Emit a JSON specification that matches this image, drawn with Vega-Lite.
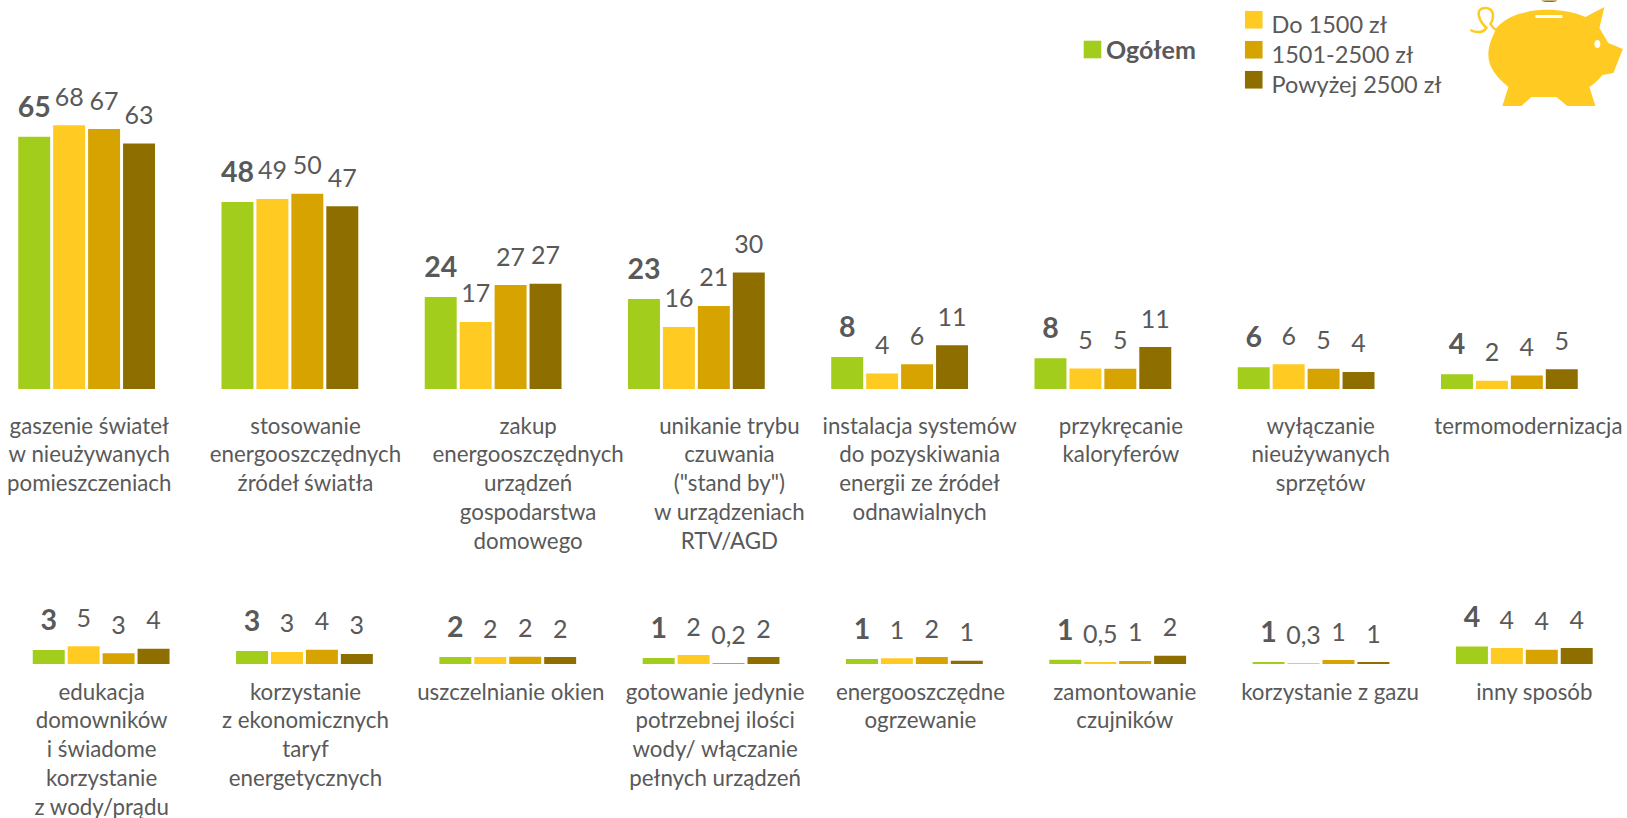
{
"$schema":"https://vega.github.io/schema/vega-lite/v6.json",
"padding":0,
"background":"white",
"spacing":0,
"config":{"view":{"stroke":null},"text":{"font":"Lato","color":"#595959"},"axis":{"labelFont":"Lato","labelColor":"#595959"},"legend":{"labelFont":"Lato","labelColor":"#595959"}},
"datasets":{
"top":[
{"cat":"gaszenie świateł|w nieużywanych|pomieszczeniach","series":"Ogółem","value":65,"label":"65"},
{"cat":"gaszenie świateł|w nieużywanych|pomieszczeniach","series":"Do 1500 zł","value":68,"label":"68"},
{"cat":"gaszenie świateł|w nieużywanych|pomieszczeniach","series":"1501-2500 zł","value":67,"label":"67"},
{"cat":"gaszenie świateł|w nieużywanych|pomieszczeniach","series":"Powyżej 2500 zł","value":63.3,"label":"63"},
{"cat":"stosowanie|energooszczędnych|źródeł światła","series":"Ogółem","value":48.2,"label":"48"},
{"cat":"stosowanie|energooszczędnych|źródeł światła","series":"Do 1500 zł","value":49,"label":"49"},
{"cat":"stosowanie|energooszczędnych|źródeł światła","series":"1501-2500 zł","value":50.3,"label":"50"},
{"cat":"stosowanie|energooszczędnych|źródeł światła","series":"Powyżej 2500 zł","value":47.1,"label":"47"},
{"cat":"zakup|energooszczędnych|urządzeń|gospodarstwa|domowego","series":"Ogółem","value":23.7,"label":"24"},
{"cat":"zakup|energooszczędnych|urządzeń|gospodarstwa|domowego","series":"Do 1500 zł","value":17.3,"label":"17"},
{"cat":"zakup|energooszczędnych|urządzeń|gospodarstwa|domowego","series":"1501-2500 zł","value":26.8,"label":"27"},
{"cat":"zakup|energooszczędnych|urządzeń|gospodarstwa|domowego","series":"Powyżej 2500 zł","value":27.1,"label":"27"},
{"cat":"unikanie trybu|czuwania|(\"stand by\")|w urządzeniach|RTV/AGD","series":"Ogółem","value":23.2,"label":"23"},
{"cat":"unikanie trybu|czuwania|(\"stand by\")|w urządzeniach|RTV/AGD","series":"Do 1500 zł","value":16,"label":"16"},
{"cat":"unikanie trybu|czuwania|(\"stand by\")|w urządzeniach|RTV/AGD","series":"1501-2500 zł","value":21.4,"label":"21"},
{"cat":"unikanie trybu|czuwania|(\"stand by\")|w urządzeniach|RTV/AGD","series":"Powyżej 2500 zł","value":30,"label":"30"},
{"cat":"instalacja systemów|do pozyskiwania|energii ze źródeł|odnawialnych","series":"Ogółem","value":8.25,"label":"8"},
{"cat":"instalacja systemów|do pozyskiwania|energii ze źródeł|odnawialnych","series":"Do 1500 zł","value":4,"label":"4"},
{"cat":"instalacja systemów|do pozyskiwania|energii ze źródeł|odnawialnych","series":"1501-2500 zł","value":6.4,"label":"6"},
{"cat":"instalacja systemów|do pozyskiwania|energii ze źródeł|odnawialnych","series":"Powyżej 2500 zł","value":11.3,"label":"11"},
{"cat":"przykręcanie|kaloryferów","series":"Ogółem","value":7.9,"label":"8"},
{"cat":"przykręcanie|kaloryferów","series":"Do 1500 zł","value":5.3,"label":"5"},
{"cat":"przykręcanie|kaloryferów","series":"1501-2500 zł","value":5.2,"label":"5"},
{"cat":"przykręcanie|kaloryferów","series":"Powyżej 2500 zł","value":10.8,"label":"11"},
{"cat":"wyłączanie|nieużywanych|sprzętów","series":"Ogółem","value":5.6,"label":"6"},
{"cat":"wyłączanie|nieużywanych|sprzętów","series":"Do 1500 zł","value":6.4,"label":"6"},
{"cat":"wyłączanie|nieużywanych|sprzętów","series":"1501-2500 zł","value":5.2,"label":"5"},
{"cat":"wyłączanie|nieużywanych|sprzętów","series":"Powyżej 2500 zł","value":4.4,"label":"4"},
{"cat":"termomodernizacja","series":"Ogółem","value":3.8,"label":"4"},
{"cat":"termomodernizacja","series":"Do 1500 zł","value":2.1,"label":"2"},
{"cat":"termomodernizacja","series":"1501-2500 zł","value":3.5,"label":"4"},
{"cat":"termomodernizacja","series":"Powyżej 2500 zł","value":5.1,"label":"5"}
],
"bottom":[
{"cat":"edukacja|domowników|i świadome|korzystanie|z wody/prądu","series":"Ogółem","value":3.6,"label":"3"},
{"cat":"edukacja|domowników|i świadome|korzystanie|z wody/prądu","series":"Do 1500 zł","value":4.6,"label":"5"},
{"cat":"edukacja|domowników|i świadome|korzystanie|z wody/prądu","series":"1501-2500 zł","value":2.8,"label":"3"},
{"cat":"edukacja|domowników|i świadome|korzystanie|z wody/prądu","series":"Powyżej 2500 zł","value":3.9,"label":"4"},
{"cat":"korzystanie|z ekonomicznych|taryf|energetycznych","series":"Ogółem","value":3.35,"label":"3"},
{"cat":"korzystanie|z ekonomicznych|taryf|energetycznych","series":"Do 1500 zł","value":3.1,"label":"3"},
{"cat":"korzystanie|z ekonomicznych|taryf|energetycznych","series":"1501-2500 zł","value":3.7,"label":"4"},
{"cat":"korzystanie|z ekonomicznych|taryf|energetycznych","series":"Powyżej 2500 zł","value":2.6,"label":"3"},
{"cat":"uszczelnianie okien","series":"Ogółem","value":1.8,"label":"2"},
{"cat":"uszczelnianie okien","series":"Do 1500 zł","value":1.8,"label":"2"},
{"cat":"uszczelnianie okien","series":"1501-2500 zł","value":1.9,"label":"2"},
{"cat":"uszczelnianie okien","series":"Powyżej 2500 zł","value":1.8,"label":"2"},
{"cat":"gotowanie jedynie|potrzebnej ilości|wody/ włączanie|pełnych urządzeń","series":"Ogółem","value":1.55,"label":"1"},
{"cat":"gotowanie jedynie|potrzebnej ilości|wody/ włączanie|pełnych urządzeń","series":"Do 1500 zł","value":2.3,"label":"2"},
{"cat":"gotowanie jedynie|potrzebnej ilości|wody/ włączanie|pełnych urządzeń","series":"1501-2500 zł","value":0.25,"label":"0,2"},
{"cat":"gotowanie jedynie|potrzebnej ilości|wody/ włączanie|pełnych urządzeń","series":"Powyżej 2500 zł","value":1.8,"label":"2"},
{"cat":"energooszczędne|ogrzewanie","series":"Ogółem","value":1.3,"label":"1"},
{"cat":"energooszczędne|ogrzewanie","series":"Do 1500 zł","value":1.45,"label":"1"},
{"cat":"energooszczędne|ogrzewanie","series":"1501-2500 zł","value":1.8,"label":"2"},
{"cat":"energooszczędne|ogrzewanie","series":"Powyżej 2500 zł","value":0.85,"label":"1"},
{"cat":"zamontowanie|czujników","series":"Ogółem","value":1.1,"label":"1"},
{"cat":"zamontowanie|czujników","series":"Do 1500 zł","value":0.5,"label":"0,5"},
{"cat":"zamontowanie|czujników","series":"1501-2500 zł","value":0.8,"label":"1"},
{"cat":"zamontowanie|czujników","series":"Powyżej 2500 zł","value":2.15,"label":"2"},
{"cat":"korzystanie z gazu","series":"Ogółem","value":0.5,"label":"1"},
{"cat":"korzystanie z gazu","series":"Do 1500 zł","value":0.25,"label":"0,3"},
{"cat":"korzystanie z gazu","series":"1501-2500 zł","value":1,"label":"1"},
{"cat":"korzystanie z gazu","series":"Powyżej 2500 zł","value":0.5,"label":"1"},
{"cat":"inny sposób","series":"Ogółem","value":4.5,"label":"4"},
{"cat":"inny sposób","series":"Do 1500 zł","value":4.1,"label":"4"},
{"cat":"inny sposób","series":"1501-2500 zł","value":3.7,"label":"4"},
{"cat":"inny sposób","series":"Powyżej 2500 zł","value":4.1,"label":"4"}
]
},
"vconcat":[
{
"width":1627,"height":389,
"layer":[
{
"data":{"name":"top"},
"encoding":{
"x":{"field":"cat","type":"nominal","sort":null,"title":null,
"scale":{"domain":["gaszenie świateł|w nieużywanych|pomieszczeniach","stosowanie|energooszczędnych|źródeł światła","zakup|energooszczędnych|urządzeń|gospodarstwa|domowego","unikanie trybu|czuwania|(\"stand by\")|w urządzeniach|RTV/AGD","instalacja systemów|do pozyskiwania|energii ze źródeł|odnawialnych","przykręcanie|kaloryferów","wyłączanie|nieużywanych|sprzętów","termomodernizacja"],"range":[-15,1611],"paddingInner":0.327,"paddingOuter":0.1635},
"axis":{"domain":false,"ticks":false,"labelAngle":0,"labelFontSize":22.3,"labelPadding":26,"labelLineHeight":28.9,"labelBaseline":"top","labelLimit":400,"labelOverlap":false,"labelFlush":false,"labelExpr":"split(datum.label,'|')",
"encoding":{"labels":{"dx":{"value":{"signal":"{'gaszenie':2.6,'stosowanie|energooszczędnych|źródeł':15.6,'zakup|energooszczędnych|urządzeń|gospodarstwa|domowego':35,'unikanie':33,'instalacja':20,'przykręcanie|kaloryferów':18,'wyłączanie|nieużywanych|sprzętów':14.5,'termomodernizacja':19}[split(datum.value,' ')[0]]"}}}}}},
"xOffset":{"field":"series","type":"nominal","sort":null,"scale":{"domain":["Ogółem","Do 1500 zł","1501-2500 zł","Powyżej 2500 zł"],"paddingInner":0.085,"paddingOuter":0}},
"y":{"field":"value","type":"quantitative","axis":null,"scale":{"domain":[0,100.26],"nice":false}}
},
"layer":[
{"transform":[{"filter":"datum.series==='Ogółem'"}],"mark":{"type":"bar"},
"encoding":{"color":{"field":"series","type":"nominal","scale":{"domain":["Ogółem"],"range":["#A2CD1C"]},
"legend":{"orient":"none","legendX":1080,"legendY":37,"title":null,"symbolType":"square","symbolSize":310,"symbolStrokeWidth":0,"labelFontSize":25,"labelFontWeight":"bold","labelOffset":1,"padding":0,"symbolOpacity":1,"encoding":{"labels":{"dy":{"value":1}}}}}}},
{"transform":[{"filter":"datum.series!=='Ogółem'"}],"mark":{"type":"bar"},
"encoding":{"color":{"field":"series","type":"nominal","sort":null,"scale":{"domain":["Do 1500 zł","1501-2500 zł","Powyżej 2500 zł"],"range":["#FFCA22","#D6A300","#8F6E00"]},
"legend":{"orient":"none","legendX":1242,"legendY":8,"title":null,"symbolType":"square","symbolSize":310,"symbolStrokeWidth":0,"labelFontSize":23.5,"labelOffset":6,"labelLimit":300,"rowPadding":0,"padding":0,"symbolOpacity":1,"encoding":{"labels":{"dy":{"value":6}}}}}}},
{"transform":[{"filter":"datum.series==='Ogółem'"}],"mark":{"type":"text","fontSize":28.5,"fontWeight":"bold","dy":-29,"baseline":"middle"},"encoding":{"text":{"field":"label","type":"nominal"}}},
{"transform":[{"filter":"datum.series!=='Ogółem'"}],"mark":{"type":"text","fontSize":25,"dy":-27.5,"baseline":"middle"},"encoding":{"text":{"field":"label","type":"nominal"}}}
],
"resolve":{"scale":{"color":"independent"}}
},
{
"data":{"values":[{"icon":"skarbonka"}]},
"mark":{"type":"point","filled":true,"opacity":1,"size":4,"fill":"#FFCA22","stroke":null,"shape":"M95,-55 L90,-34 L99,-19 L113.5,-13 L104,11 L93,13 C89,18 85,22 80,25 L86,44 L58,44 L47,35 L22,35 L12,44 L-7,44 L-1,25 C-13,15 -21,5 -21,-7 C-21,-20 -15,-28 -13,-34 C-5,-43 7,-48 14,-49 C27,-54 57,-54 76,-45 Z M26,-47 L26,-44 L53,-44 L53,-47 Z M88,-22 C86,-22 85,-20 85,-18 C85,-16 86,-14 88,-14 C90,-14 91,-16 91,-18 C91,-20 90,-22 88,-22 Z"},
"encoding":{"x":{"datum":"termomodernizacja","type":"nominal"},"y":{"datum":84.28,"type":"quantitative"}}
},
{
"data":{"values":[{"icon":"ogon"}]},
"mark":{"type":"point","filled":false,"opacity":1,"size":4,"stroke":"#FFCA22","strokeWidth":2.5,"shape":"M-39,-32 C-33,-29 -26,-29 -23,-34 C-31,-42 -35,-54 -24,-54 C-15,-54 -15,-44 -19,-38 C-18,-36 -15,-33 -12,-31"},
"encoding":{"x":{"datum":"termomodernizacja","type":"nominal"},"y":{"datum":84.28,"type":"quantitative"}}
},
{
"data":{"values":[{"icon":"moneta"}]},
"mark":{"type":"point","filled":true,"opacity":1,"size":4,"fill":"#8F6E00","stroke":null,"shape":"M32,-61.5 C34,-59.5 46,-59.5 48,-61.5 Z"},
"encoding":{"x":{"datum":"termomodernizacja","type":"nominal"},"y":{"datum":84.28,"type":"quantitative"}}
}
]
},
{
"width":1627,"height":111,
"data":{"name":"bottom"},
"encoding":{
"x":{"field":"cat","type":"nominal","sort":null,"title":null,
"scale":{"domain":["edukacja|domowników|i świadome|korzystanie|z wody/prądu","korzystanie|z ekonomicznych|taryf|energetycznych","uszczelnianie okien","gotowanie jedynie|potrzebnej ilości|wody/ włączanie|pełnych urządzeń","energooszczędne|ogrzewanie","zamontowanie|czujników","korzystanie z gazu","inny sposób"],"range":[-0.5,1626],"paddingInner":0.327,"paddingOuter":0.1635},
"axis":{"domain":false,"ticks":false,"labelAngle":0,"labelFontSize":22.3,"labelPadding":17,"labelLineHeight":28.9,"labelBaseline":"top","labelLimit":400,"labelOverlap":false,"labelFlush":false,"labelExpr":"split(datum.label,'|')",
"encoding":{"labels":{"dx":{"value":{"signal":"{'edukacja|domowników|i':0.5,'korzystanie|z':1,'uszczelnianie':3,'gotowanie':4,'energooszczędne|ogrzewanie':6,'zamontowanie|czujników':7,'korzystanie':9,'inny':10}[split(datum.value,' ')[0]]"}}}}}},
"xOffset":{"field":"series","type":"nominal","sort":null,"scale":{"domain":["Ogółem","Do 1500 zł","1501-2500 zł","Powyżej 2500 zł"],"paddingInner":0.085,"paddingOuter":0}},
"y":{"field":"value","type":"quantitative","axis":null,"scale":{"domain":[0,28.6],"nice":false}}
},
"layer":[
{"mark":{"type":"bar"},"encoding":{"color":{"field":"series","type":"nominal","legend":null,"scale":{"domain":["Ogółem","Do 1500 zł","1501-2500 zł","Powyżej 2500 zł"],"range":["#A2CD1C","#FFCA22","#D6A300","#8F6E00"]}}}},
{"transform":[{"filter":"datum.series==='Ogółem'"}],"mark":{"type":"text","fontSize":28.5,"fontWeight":"bold","dy":-29,"baseline":"middle"},"encoding":{"text":{"field":"label","type":"nominal"}}},
{"transform":[{"filter":"datum.series!=='Ogółem'"}],"mark":{"type":"text","fontSize":25,"dy":-27.5,"baseline":"middle"},"encoding":{"text":{"field":"label","type":"nominal"}}}
]
}
]
}
